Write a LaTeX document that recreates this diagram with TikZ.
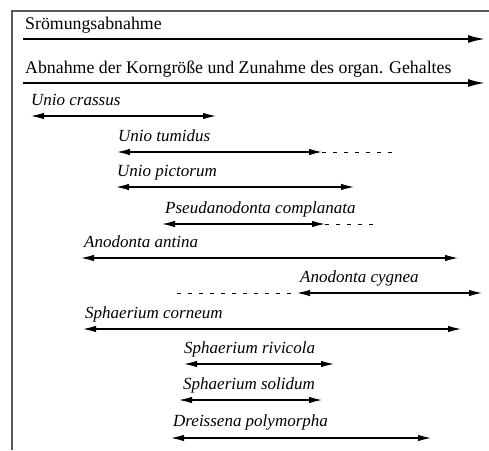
\documentclass[tikz,border=0pt]{standalone}
\usepackage{fontspec}
\setmainfont{Liberation Serif}
\usetikzlibrary{positioning,arrows.meta}

\begin{document}
\begin{tikzpicture}[
  x=1pt, y=-1pt,
  trend/.style={line width=1.8pt,-{Latex[length=17pt,width=8pt]}},
  spanarrow/.style={line width=1.1pt,{Latex[length=13pt,width=6.5pt]}-{Latex[length=13pt,width=6.5pt]}},
  ext/.style={line width=1pt,dash pattern=on 4pt off 7pt},
  headtext/.style={font=\fontsize{17.8}{20}\selectfont,inner sep=0pt},
  species/.style={font=\fontsize{17}{19}\selectfont\itshape,inner sep=0pt}
]
\useasboundingbox (0,0) rectangle (489,450);

% frame
\draw[line width=1.2pt,black!65] (12,450) -- (12,11) -- (489,11);

% trends
\coordinate (stromL) at (23,39);
\coordinate (stromR) at (485,39);
\coordinate (kornL) at (23,83);
\coordinate (kornR) at (485,83);
\node[headtext, above right=10pt and 2pt of stromL, anchor=base west] (strom) {Srömungsabnahme};
\node[headtext, above right=10pt and 2pt of kornL, anchor=base west] (korn) {Abnahme der Korngröße und Zunahme des organ. Gehaltes};

% species ranges
\coordinate (crassusL) at (31,116);    \coordinate (crassusR) at (216,116);
\coordinate (tumidusL) at (117,152);   \coordinate (tumidusR) at (322,152);
\coordinate (tumidusX) at (393,152);
\coordinate (pictorumL) at (116,187);  \coordinate (pictorumR) at (354,187);
\coordinate (pseudoL) at (162,224);    \coordinate (pseudoR) at (325,224);
\coordinate (pseudoX) at (377,224);
\coordinate (antinaL) at (81,258);     \coordinate (antinaR) at (458,258);
\coordinate (cygneaX) at (177,293);
\coordinate (cygneaL) at (297,293);    \coordinate (cygneaR) at (482,293);
\coordinate (corneumL) at (83,329);    \coordinate (corneumR) at (461,329);
\coordinate (rivicolaL) at (184,364);  \coordinate (rivicolaR) at (334,364);
\coordinate (solidumL) at (179,400);   \coordinate (solidumR) at (322,400);
\coordinate (dreissL) at (171,438);    \coordinate (dreissR) at (431,438);

\node[species, above right=11pt and 0pt of crassusL, anchor=base west] (crassus) {Unio crassus};
\node[species, above right=11pt and 1pt of tumidusL, anchor=base west] (tumidus) {Unio tumidus};
\node[species, above right=11pt and 1pt of pictorumL, anchor=base west] (pictorum) {Unio pictorum};
\node[species, above right=11pt and 3pt of pseudoL, anchor=base west] (pseudo) {Pseudanodonta complanata};
\node[species, above right=11pt and 3pt of antinaL, anchor=base west] (antina) {Anodonta antina};
\node[species, above right=11pt and 3pt of cygneaL, anchor=base west] (cygnea) {Anodonta cygnea};
\node[species, above right=11pt and 2pt of corneumL, anchor=base west] (corneum) {Sphaerium corneum};
\node[species, above right=11pt and 0pt of rivicolaL, anchor=base west] (rivicola) {Sphaerium rivicola};
\node[species, above right=11pt and 4pt of solidumL, anchor=base west] (solidum) {Sphaerium solidum};
\node[species, above right=12pt and 2pt of dreissL, anchor=base west] (dreiss) {Dreissena polymorpha};

\path (stromL) edge[trend] (stromR)
(kornL) edge[trend] (kornR);

\path (crassusL) edge[spanarrow] (crassusR)
(tumidusL) edge[spanarrow] (tumidusR)
(pictorumL) edge[spanarrow] (pictorumR)
(pseudoL) edge[spanarrow] (pseudoR)
(antinaL) edge[spanarrow] (antinaR)
(cygneaL) edge[spanarrow] (cygneaR)
(corneumL) edge[spanarrow] (corneumR)
(rivicolaL) edge[spanarrow] (rivicolaR)
(solidumL) edge[spanarrow] (solidumR)
(dreissL) edge[spanarrow] (dreissR);

\path (tumidusR) edge[ext] (tumidusX)
(pseudoR) edge[ext] (pseudoX)
(cygneaX) edge[ext] (cygneaL);

\end{tikzpicture}
\end{document}
